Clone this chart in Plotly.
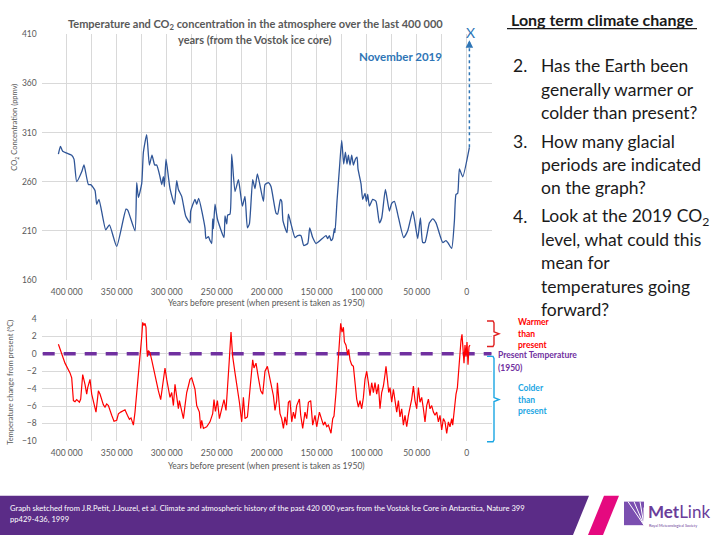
import plotly.graph_objects as go

# ---------------- data ----------------
co2_years_k = [408.3, 406.3, 404, 395, 392.7, 390, 385, 382.7, 378.3, 376, 371.7, 370, 367.7, 361, 357.3, 350,
               340.7, 339, 331.7, 330, 328.3, 325, 323.3, 320, 317.3, 314.7, 312, 310, 306.7, 305, 303.3, 302.3,
               300.7, 298.3, 296.7, 292.3, 290, 288.3, 285, 281, 276.7, 276, 271.7, 270, 268, 261.7, 260.7, 258.3,
               256.7, 255, 254, 253.3, 251.7, 249.3, 242.7, 241.7, 240, 239, 236.7, 235, 231.7, 228.3, 226.7, 224.3,
               221.7, 219.3, 217.3, 214, 211.7, 209.3, 203.3, 201.7, 198.3, 195.7, 190.7, 189, 186.3, 185, 183.7,
               179.7, 178.3, 175.7, 171.7, 169, 165.7, 163, 159, 157, 154, 150.7, 140.7, 139, 137.3, 135.7, 134,
               132.3, 131.7, 129.7, 127.3, 125, 123, 121.3, 119.7, 118.3, 116.7, 115, 113.3, 111.3, 109.7, 108.7,
               105.7, 104, 101.7, 100.3, 99, 97.3, 94, 90.7, 87.3, 85, 81.3, 77.3, 75, 72.3, 69, 63, 59, 54, 52.3,
               49, 46.3, 44, 41.7, 37.3, 34, 30.7, 24, 20.7, 18.3, 15, 12.3, 10.7, 9, 7.3, 4, -2.7]
co2_ppmv = [288, 296, 291, 287, 283, 260, 270, 277, 257, 257, 251, 237, 242, 211, 216, 194,
            232, 231, 210, 259, 244, 258, 290, 308, 277, 287, 277, 277, 265, 257, 265, 255,
            283, 265, 253, 237, 261, 252, 245, 225, 218, 230, 242, 237, 243, 213, 202, 204,
            200, 197, 222, 212, 237, 222, 203, 225, 217, 226, 227, 288, 250, 262, 252, 235,
            245, 213, 217, 262, 253, 268, 240, 257, 259, 255, 228, 227, 242, 240, 220,
            208, 227, 217, 203, 205, 205, 195, 197, 213, 203, 197, 205, 202, 205, 200, 202,
            212, 208, 240, 273, 302, 278, 290, 278, 287, 277, 287, 277, 283, 285, 273,
            258, 242, 248, 240, 247, 235, 242, 240, 218, 223, 252, 230, 238, 240, 227, 203, 210, 230, 222,
            202, 223, 198, 198, 218, 222, 218, 198, 200, 197, 192, 220, 247, 248, 273, 265, 295]

co2_2019_years_k = [-2.7, -2.7]
co2_2019_ppmv = [295, 404]

temp_years_k = [408.3, 405, 401.7, 396.7, 395, 393.3, 391.7, 390, 387.3, 386, 384, 381.7, 380, 379, 376.7, 375,
                371.7, 370.7, 368.3, 366.7, 363.3, 361.7, 360, 358.3, 355, 352.7, 350, 348.3, 346, 344, 341.7,
                339.3, 337.3, 335.7, 333.3, 331.7, 329, 326.7, 325, 324, 322.7, 321.7, 320.7, 320, 319.3, 318.3,
                316.7, 315, 311.7, 308.3, 306, 304, 301.7, 300, 298.3, 296.7, 295, 293.3, 291.7, 290, 288.3, 287.3,
                285, 283.3, 281.7, 280, 278.3, 276.7, 275, 271.7, 270, 267.3, 266, 265, 263.3, 260, 256.7, 254,
                252.7, 251.3, 249.3, 247.3, 245, 242.7, 240.7, 239.3, 237.7, 235.7, 234, 231.7, 229.3, 227.3, 225,
                223.3, 221.7, 219.3, 217.3, 215, 214, 212.7, 210.7, 208.3, 206, 204, 201.7, 199.3, 197.3, 195,
                193.3, 191.7, 190, 189.3, 188, 186.7, 185, 183.3, 181.7, 180, 178.3, 176.7, 175, 173.3, 171.7, 170,
                167.3, 166, 164, 161.7, 160, 158.3, 156, 154, 151.7, 150, 147.3, 145, 143.3, 141.7, 140, 138.3,
                136.7, 135.7, 134, 132.7, 130.7, 129, 127.3, 126, 124.7, 123.3, 122.3, 120.7, 119, 118, 116.7, 115,
                113.3, 111.7, 110, 108.3, 106.7, 105, 103.3, 101.7, 100, 98.3, 96.7, 95, 93.3, 91.7, 90, 88.3, 86.7,
                85, 83.3, 81.7, 80.7, 79.3, 78, 76.7, 75, 73.3, 71.7, 70, 68.3, 66.7, 65, 63.3, 61.7, 60, 58.3, 56.7,
                55, 53.3, 51.7, 50, 48.3, 46.7, 45, 43.3, 41.7, 40, 38.3, 36.7, 35, 33.3, 31.7, 30, 28.3, 26.7, 25,
                23.3, 21.7, 20, 18.3, 16.7, 15, 14, 12.7, 10.7, 9.3, 8, 6.7, 5.7, 4.7, 3.7, 2.7, 1.7, 0.7, -0.3,
                -1.3, -2.3, -3.3]
temp_change_c = [1.11, 0.13, -1.07, -2.19, -2.76, -5.38, -5.5, -5.27, -5.57, -5.2, -2.38, -3.5, -4.63, -3.88, -2.94, -4.63,
                 -6.13, -6.7, -4.26, -4.63, -5.87, -6.13, -5.76, -5.95, -7.07, -7.75, -7.64, -6.89, -6.7, -6.62, -6.44,
                 -7.07, -7.52, -7.37, -8.2, -6.7, -3.32, -1.07, 1.94, 3.62, 3.25, 3.51, 3.06, 0.81, -0.32, 0.36,
                 0.13, -0.69, -2.57, -4.26, -5.27, -3.32, -1.63, -2.94, -4.26, -5.01, -4.45, -5.95, -3.51, -5.01, -6.32, -5.38,
                 -6.7, -7.45, -5.95, -4.45, -3.7, -2.94, -2.76, -4.07, -5.95, -6.7, -8.58, -7.64, -8.58, -8.39, -7.82, -6.89,
                 -5.27, -6.62, -5.38, -7.45, -6.32, -5.27, -6.51, -4.45, -1.26, 2.5, -0.32, -2.19, -3.88, -5.57, -7.82,
                 -5.01, -7.45, -7.26, -4.82, -1.44, -0.69, -1.63, -1.07, -2.76, -4.26, -4.63, -2.0, -1.44, -2.57, -4.26,
                 -4.82, -6.51, -5.38, -3.32, -4.82, -6.89, -7.45, -8.58, -7.26, -8.2, -5.57, -5.38, -7.82, -6.7, -7.45, -5.95,
                 -5.2, -7.07, -8.58, -6.7, -7.45, -5.57, -5.38, -8.2, -7.07, -8.39, -6.7, -7.64, -8.2, -7.82, -8.39, -8.2,
                 -8.76, -9.14, -7.45, -7.15, -4.45, -1.07, 1.94, 3.51, 2.5, 3.06, 1.37, 1.0, -0.13, 0.51, -0.69, -1.26,
                 -1.44, -3.51, -5.2, -6.13, -5.38, -6.32, -5.01, -2.94, -2.0, -3.32, -4.82, -3.32, -4.45, -3.32, -4.63, -3.51, -6.32,
                 -4.45, -3.7, -2.38, -1.44, -2.94, -4.45, -3.88, -5.57, -4.07, -5.57, -6.7, -5.38, -7.26, -6.32, -8.2, -7.07, -8.39, -7.07, -6.32,
                 -5.2, -3.7, -5.38, -6.32, -3.88, -5.57, -5.01, -6.32, -7.82, -5.95, -5.2, -6.32, -5.95, -6.7, -7.07, -6.7, -7.82, -7.07, -8.76,
                 -7.45, -7.82, -9.14, -7.82, -8.39, -7.45, -8.2, -6.7, -4.63, -3.88, -1.44, 0.43, 1.56, 2.24, 0.81, -1.07, 1.0, -0.32, 1.37,
                 -1.26, 0.81, 1.0]

present_years_k = [424, -25]
present_temp_c = [0, 0]

x_tick_vals = [425000, 400000, 375000, 350000, 325000, 300000, 275000, 250000, 225000, 200000, 175000,
               150000, 125000, 100000, 75000, 50000, 25000, 0, -25000]
x_tick_text = ["", "400 000", "", "350 000", "", "300 000", "", "250 000", "", "200 000", "",
               "150 000", "", "100 000", "", "50 000", "", "0", ""]
co2_tick_vals = [160, 210, 260, 310, 360, 410]
temp_tick_vals = [-10, -8, -6, -4, -2, 0, 2, 4]

chart_title = ["Temperature and CO<sub>2</sub> concentration in the atmosphere over the last 400 000",
               "years (from the Vostok ice core)"]
x_title = "Years before present (when present is taken as 1950)"
panel_title = "Long term climate change"
panel_items = [("2.", ["Has the Earth been", "generally warmer or", "colder than present?"]),
               ("3.", ["How many glacial", "periods are indicated", "on the graph?"]),
               ("4.", ["Look at the 2019 CO<sub>2</sub>", "level, what could this", "mean for",
                       "temperatures going", "forward?"])]
warmer_lines = ["Warmer", "than", "present"]
colder_lines = ["Colder", "than", "present"]
present_lines = ["Present Temperature", "(1950)"]
footer_lines = ["Graph sketched from J.R.Petit, J.Jouzel, et al. Climate and atmospheric history of the past 420 000 years from the Vostok Ice Core in Antarctica, Nature 399",
                "pp429-436, 1999"]

# ---------------- helpers ----------------
W, H = 720, 540
def PX(x):
    return x / W
def PY(y):
    return 1 - y / H

FONT = "Lato"
GRAY = "#595959"
GRID = "#D9D9D9"
BLUE_TXT = "#2E75B6"
PURPLE = "#7030A0"
CYAN = "#1BA6E3"

co2_years = [v * 1000 for v in co2_years_k]
temp_years = [v * 1000 for v in temp_years_k]

fig = go.Figure()
fig.add_trace(go.Scatter(x=co2_years, y=co2_ppmv, mode="lines",
                         line=dict(color="#2F5597", width=1.3, shape="spline", smoothing=0.5),
                         xaxis="x", yaxis="y", hoverinfo="skip"))
fig.add_trace(go.Scatter(x=[v * 1000 for v in co2_2019_years_k], y=co2_2019_ppmv, mode="lines",
                         line=dict(color=BLUE_TXT, width=1.5, dash="dot"),
                         xaxis="x", yaxis="y", hoverinfo="skip"))
fig.add_trace(go.Scatter(x=[v * 1000 for v in present_years_k], y=present_temp_c, mode="lines",
                         line=dict(color=PURPLE, width=3.5, dash="12px,9px"),
                         xaxis="x2", yaxis="y2", hoverinfo="skip"))
fig.add_trace(go.Scatter(x=temp_years, y=temp_change_c, mode="lines",
                         line=dict(color="#FF0000", width=1.2),
                         xaxis="x2", yaxis="y2", hoverinfo="skip"))

xdom = [PX(41.7), PX(491.7)]
axis_common = dict(showgrid=True, gridcolor=GRID, gridwidth=1, zeroline=False, showline=False,
                   tickfont=dict(family=FONT, size=8.5, color=GRAY), ticks="")
fig.update_layout(
    width=W, height=H, margin=dict(l=0, r=0, t=0, b=0),
    paper_bgcolor="white", plot_bgcolor="white", showlegend=False,
    xaxis=dict(domain=xdom, range=[425000, -25000], tickmode="array", tickvals=x_tick_vals,
               ticktext=x_tick_text, anchor="y", ticklabelstandoff=6, **axis_common),
    yaxis=dict(domain=[PY(280), PY(30)], range=[160, 410], tickmode="array", tickvals=co2_tick_vals,
               anchor="x", ticklabelstandoff=4, **axis_common),
    xaxis2=dict(domain=xdom, range=[425000, -25000], tickmode="array", tickvals=x_tick_vals,
                ticktext=x_tick_text, anchor="y2", ticklabelstandoff=6, **axis_common),
    yaxis2=dict(domain=[PY(444), PY(320)], range=[-10, 4], tickmode="array", tickvals=temp_tick_vals,
                anchor="x2", ticklabelstandoff=4, **axis_common),
)

ann = []
def text(x, y, s, size, color="#000000", bold=False, xanchor="left", angle=0):
    ann.append(dict(xref="paper", yref="paper", x=PX(x), y=PY(y), text=("<b>%s</b>" % s) if bold else s,
                    showarrow=False, xanchor=xanchor, yanchor="middle", textangle=angle,
                    font=dict(family=FONT, size=size, color=color)))

# chart titles
text(255, 20, chart_title[0], 11, GRAY, True, "center")
text(255, 35, chart_title[1], 11, GRAY, True, "center")
text(400, 52, "November 2019", 11.5, BLUE_TXT, True, "center")
text(470, 28, "X", 14, BLUE_TXT, False, "center")
text(266, 304, x_title, 8.5, GRAY, False, "center")
text(266, 470, x_title, 8.5, GRAY, False, "center")
text(15, 125, "CO<sub>2</sub> Concentration (ppmv)", 7.5, GRAY, False, "center", -90)
text(11, 385, "Temperature change from present (°C)", 7.5, GRAY, False, "center", -90)

# arrow head on dotted line
ann.append(dict(xref="x", yref="y", axref="x", ayref="y", x=co2_2019_years_k[1] * 1000, y=co2_2019_ppmv[1],
                ax=co2_2019_years_k[1] * 1000, ay=co2_2019_ppmv[1] - 6, text="", showarrow=True,
                arrowhead=2, arrowsize=1, arrowwidth=1.5, arrowcolor=BLUE_TXT))

# right panel
text(602, 15, panel_title, 16, "#1a1a1a", True, "center")
yy = 62
for num, lines in panel_items:
    text(511, yy, num, 17.5, "#1a1a1a")
    for ln in lines:
        text(539, yy, ln, 17.5, "#1a1a1a")
        yy += 23.6
    yy += 6

# bracket labels
for i, s in enumerate(warmer_lines):
    text(516, 323 + i * 11.8, s, 8.5, "#FF0000", True)
for i, s in enumerate(colder_lines):
    text(516, 390 + i * 12, s, 8.5, CYAN, True)
for i, s in enumerate(present_lines):
    text(496, 357 + i * 12.5, s, 8.5, PURPLE, True)

# footer text
text(8, 512, footer_lines[0], 7.6, "white")
text(8, 524, footer_lines[1], 7.6, "white")

# logo text
ann.append(dict(xref="paper", yref="paper", x=PX(646), y=PY(516), xanchor="left", yanchor="middle",
                text="<b>Met</b>Link", showarrow=False, font=dict(family=FONT, size=17, color="#6A3D9A")))
text(647, 530, "Royal Meteorological Society", 3.8, "#6A3D9A")

fig.update_layout(annotations=ann)

shapes = []
def path(pts, color, width=1.5, fill=None):
    d = "M " + " L ".join("%f,%f" % (PX(x), PY(y)) for x, y in pts)
    if fill:
        d += " Z"
    shapes.append(dict(type="path", xref="paper", yref="paper", path=d,
                       line=dict(color=color if not fill else fill, width=width if not fill else 0),
                       fillcolor=fill if fill else "rgba(0,0,0,0)", layer="above"))

# underline of panel title
path([(507, 24), (697, 24)], "#1a1a1a", 1.2)
# red brace
path([(487, 322), (493, 322), (494, 324), (494, 333), (499, 335), (494, 337), (494, 346), (493, 348), (487, 348)],
     "#E02020", 1.4)
# blue brace
path([(487, 358), (493, 358), (494, 360), (494, 400), (499, 402), (494, 404), (494, 443), (493, 445), (487, 445)],
     CYAN, 1.4)
# footer band
path([(0, 500), (589, 500), (573, 540), (0, 540)], None, fill="#5B2C87")
path([(604, 500), (619, 500), (603, 540), (588, 540)], None, fill="#E5097F")
# logo icon
path([(624, 506), (644, 506), (644, 530), (624, 530)], None, fill="#7B4FB0")
for ex, ey in [(644, 512), (640, 506), (634, 506), (628, 506)]:
    path([(644, 530), (ex, ey)], "white", 1)
fig.update_layout(shapes=shapes)

fig.write_html("out.html", config={"displayModeBar": False},
               post_script="document.body.style.margin='0px';document.body.style.overflow='hidden';")
